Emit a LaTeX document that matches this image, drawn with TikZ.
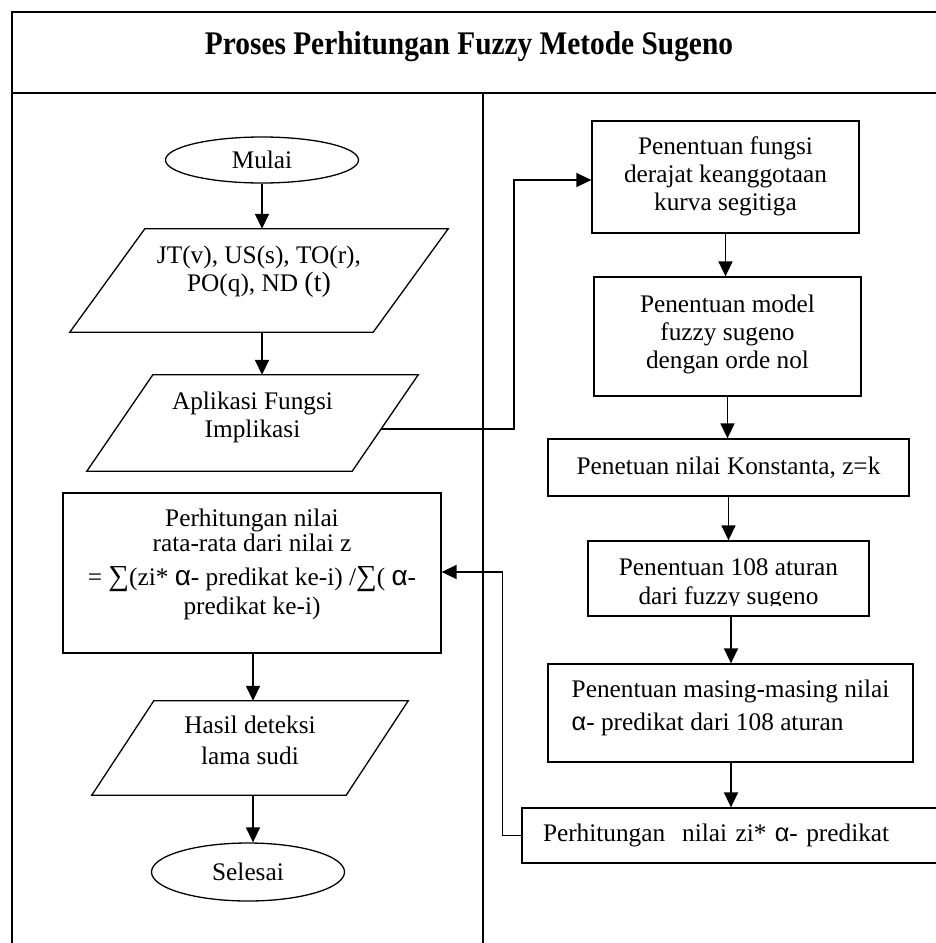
\documentclass[tikz,border=0pt]{standalone}
\usepackage{fontspec}
\setmainfont{Liberation Serif}
\newfontfamily\greekfont{Liberation Sans}
\usetikzlibrary{arrows.meta,shapes.geometric,calc}
% sans alpha used in the formulas
\newcommand{\alf}{{\greekfont α}}
% larger alpha and sum sign for the averaging formula
\newcommand{\bigalf}{{\greekfont\fontsize{28}{28}\selectfont α}}
\newcommand{\bigsum}{{\fontsize{29}{28}\selectfont ∑}}
% multi-line text block, raised by #1 without moving the node centre
\newcommand{\lifted}[2][0pt]{\raisebox{#1}[\height][\depth]{\begin{tabular}{@{}c@{}}#2\end{tabular}}}

\begin{document}
\begin{tikzpicture}[x=1pt,y=-1pt,
  every node/.style={font=\fontsize{25.3}{28}\selectfont},
  box/.style={draw, line width=1.3pt, rectangle, inner sep=0pt, align=center},
  term/.style={draw, ellipse, line width=1.3pt, inner sep=0pt},
  io/.style={rectangle, inner sep=0pt, align=center},
  iolink/.style={line width=1.3pt},
  arr/.style={line width=1.6pt, -{Triangle[length=15pt,width=14pt]}},
  frame/.style={line width=1.4pt}]

\useasboundingbox (0,0) rectangle (936,943);

% outer frame, title row and column divider
\draw[frame] (12,960) -- (12,12) -- (960,12);
\draw[frame] (12,93) -- (960,93);
\draw[frame] (483,93) -- (483,960);
\node[font=\bfseries\fontsize{33}{36}\selectfont] (title) at (469,47)
  {\scalebox{0.89}[1]{Proses Perhitungan Fuzzy Metode Sugeno}};

% ---- left column ----
\node[term, minimum width=193, minimum height=46] (mulai) at (262,160) {Mulai};

\node[io, minimum width=378, minimum height=103] (in1) at (259,280.5)
  {\lifted[9pt]{JT(v), US(s), TO(r),\\ PO(q), ND {\fontsize{28}{28}\selectfont(t)}}};
\draw[iolink] (in1.south west) -- ($(in1.north west)+(75,0)$) -- (in1.north east) -- ($(in1.south east)+(-75,0)$) -- cycle;

\node[io, minimum width=331, minimum height=96] (in2) at (252.5,423)
  {\lifted[5pt]{Aplikasi Fungsi\\ Implikasi}};
\draw[iolink] (in2.south west) -- ($(in2.north west)+(66,0)$) -- (in2.north east) -- ($(in2.south east)+(-66,0)$) -- cycle;
\coordinate (in2r) at ($(in2.east)+(-37,6)$);

\node[box, minimum width=378, minimum height=160] (rata) at (252,573)
  {\lifted[8pt]{Perhitungan nilai\\[-3pt] rata-rata dari nilai z\\[6pt]
   \makebox[0pt]{= \bigsum(zi* \bigalf- predikat ke-i) /\bigsum( \bigalf-}\\[1pt] predikat ke-i)}};

\node[io, minimum width=316, minimum height=94] (out) at (250,748)
  {\lifted[5pt]{Hasil deteksi\\[3pt] lama sudi}};
\draw[iolink] (out.south west) -- ($(out.north west)+(62,0)$) -- (out.north east) -- ($(out.south east)+(-62,0)$) -- cycle;

\node[term, minimum width=193, minimum height=58] (selesai) at (248,872) {Selesai};

\draw[arr] (mulai.south) -- (mulai.south |- in1.north);
\draw[arr] (in1.south -| mulai.south) -- (in2.north -| mulai.south);
\draw[arr] (rata.south -| 253,0) -- (out.north -| 253,0);
\draw[arr] (out.south -| 253,0) -- (selesai.north -| 253,0);

% ---- right column ----
\node[box, minimum width=267, minimum height=112] (b1) at (725.5,177)
  {\lifted{Penentuan fungsi\\ derajat keanggotaan\\ kurva segitiga}};
\node[box, minimum width=267, minimum height=119] (b2) at (727.5,336.5)
  {\lifted[1.5pt]{Penentuan model\\ fuzzy sugeno\\ dengan orde nol}};
\node[box, minimum width=361, minimum height=57] (b3) at (728.5,467.5)
  {Penetuan nilai Konstanta, z=k};
\node[box, minimum width=281, minimum height=75] (b4) at (728.5,578.5) {};
\begin{scope}
  \clip (588,541) rectangle (869,605);
  \node[anchor=base, inner sep=0pt] (b4t) at (728.5,575)
    {\begin{tabular}[t]{@{}c@{}}Penentuan 108 aturan\\[1pt] dari fuzzy sugeno\end{tabular}};
\end{scope}
\node[box, minimum width=365, minimum height=98] (b5) at (730.5,713)
  {\raisebox{5pt}[\height][\depth]{\begin{tabular}{@{}l@{}}Penentuan masing-masing nilai\\[5pt] \alf- predikat dari 108 aturan\end{tabular}}};
\node[box, minimum width=438, minimum height=55, text width=396, inner xsep=21pt, align=left] (b6) at (741,835.5)
  {Perhitungan\ \ nilai zi* \alf- predikat};

\draw[arr] (b1.south) -- (b1.south |- b2.north);
\draw[arr] (b2.south) -- (b2.south |- b3.north);
\draw[arr] (b3.south) -- (b3.south |- b4.north);
\draw[arr] (b4.south -| 731,0) -- (b5.north -| 731,0);
\draw[arr] (b5.south -| 731,0) -- (b6.north -| 731,0);

% cross-column links
\draw[arr] (in2r) -- ++(133,0) |- ($(b1.west)+(0,3)$);
\draw[arr] (b6.west) -- ++(-19,0) |- ($(rata.east)+(0,-1)$);
\end{tikzpicture}
\end{document}
